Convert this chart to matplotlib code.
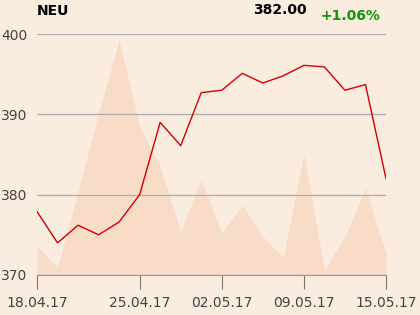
import matplotlib.pyplot as plt

# trading days (index based x axis)
tick_idx = [0, 5, 9, 13, 17]
tick_labels = ['18.04.17', '25.04.17', '02.05.17', '09.05.17', '15.05.17']

price = [377.9, 374.0, 376.2, 375.0, 376.6, 380.0, 389.0, 386.1, 392.7,
         393.0, 395.1, 393.9, 394.8, 396.1, 395.9, 393.0, 393.7, 382.0]
volume = [12.2, 3.0, 34.6, 67.1, 97.5, 61.8, 44.9, 18.0, 39.7,
          17.3, 29.0, 15.9, 7.3, 50.1, 2.1, 15.9, 36.0, 9.0]

bg = '#FBECE0'
x = list(range(len(price)))

fig = plt.figure(figsize=(4.2, 3.15), dpi=100, facecolor=bg)
ax = fig.add_axes([37/420, 1 - 275/315, 349/420, 241/315])
ax.set_facecolor(bg)

vax = ax.twinx()
vax.fill_between(x, volume, 0, color='#F8DCC8', lw=0)
vax.set_ylim(0, 100)
vax.axis('off')
ax.set_zorder(vax.get_zorder() + 1)
ax.patch.set_visible(False)
vax.patch.set_facecolor(bg)

ax.plot(x, price, color='#D40000', lw=1.0)
ax.set_xlim(0, 17)
ax.set_ylim(370, 400)
ax.set_yticks([370, 380, 390, 400])
ax.grid(axis='y', color='#B0B0B0', lw=1)
ax.set_xticks(tick_idx)
ax.set_xticklabels(tick_labels)
ax.tick_params(axis='x', length=10, color='#777777', colors='#444444', labelsize=10, pad=5)
ax.tick_params(axis='y', length=0, colors='#444444', labelsize=10, pad=7)
for s in ['top', 'right', 'left']:
    ax.spines[s].set_visible(False)
ax.spines['bottom'].set_color('#999999')
for s in vax.spines.values():
    s.set_visible(False)

fig.text(37/420, 1 - 11/315, 'NEU', fontsize=10, fontweight='bold', va='center')
fig.text(307/420, 1 - 10/315, '382.00', fontsize=10, fontweight='bold', va='center', ha='right')
fig.text(380/420, 1 - 16/315, '+1.06%', fontsize=10, fontweight='bold', va='center',
         ha='right', color='#0A9A0A')

fig.savefig('out.png', dpi=100, facecolor=bg)
